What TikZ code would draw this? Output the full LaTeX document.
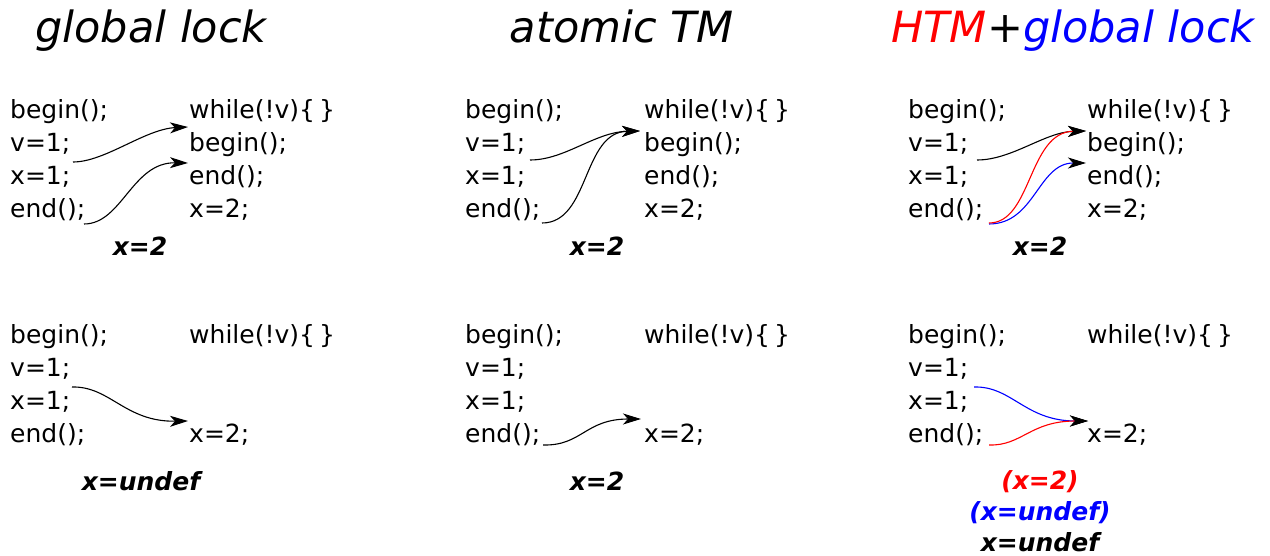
\documentclass[tikz,border=0pt]{standalone}
\usepackage{fontspec}
\setmainfont{DejaVu Sans}
\usetikzlibrary{arrows.meta}
\begin{document}
\begin{tikzpicture}[x=1pt,y=-1pt,
  code/.style={anchor=base west,inner sep=0pt,font=\fontsize{25}{30}\selectfont},
  ttl/.style={anchor=base,inner sep=0pt,font=\fontsize{43}{50}\selectfont\itshape},
  res/.style={anchor=base,inner sep=0pt,font=\fontsize{25}{30}\selectfont\bfseries\itshape},
  arr/.style={line width=1.1pt,-{Stealth[length=18pt,width=11pt,inset=5pt,color=black]}}]
\useasboundingbox (0,0) rectangle (1270,556);
% titles
\node[ttl] (t1) at (151,43) {global lock};
\node[ttl] (t2) at (622,43) {atomic TM};
\node[ttl] (t3) at (1073,43) {{\color{red}HTM}+{\color{blue}global lock}};
% ---------- panel 1 top
\node[code] (a1l1) at (10,119) {begin();};
\node[code] (a1l2) at (10,152) {v=1;};
\node[code] (a1l3) at (10,185) {x=1;};
\node[code] (a1l4) at (10,218) {end();};
\node[code] (a1r1) at (189,119) {while(!v)\{\,\}};
\node[code] (a1r2) at (189,152) {begin();};
\node[code] (a1r3) at (189,185) {end();};
\node[code] (a1r4) at (189,218) {x=2;};
\coordinate (a1s1) at (73,162);
\coordinate (a1e1) at (188,127);
\coordinate (a1s2) at (84,224);
\coordinate (a1e2) at (188,163);
\draw[arr] (a1s1) .. controls (105,162) and (145,129) .. (a1e1);
\draw[arr] (a1s2) .. controls (122,224) and (132,162) .. (a1e2);
\node[res] (a1res) at (140,256) {x=2};
% ---------- panel 2 top
\node[code] (a2l1) at (465,119) {begin();};
\node[code] (a2l2) at (465,152) {v=1;};
\node[code] (a2l3) at (465,185) {x=1;};
\node[code] (a2l4) at (465,218) {end();};
\node[code] (a2r1) at (644,119) {while(!v)\{\,\}};
\node[code] (a2r2) at (644,152) {begin();};
\node[code] (a2r3) at (644,185) {end();};
\node[code] (a2r4) at (644,218) {x=2;};
\coordinate (a2s1) at (530,160);
\coordinate (a2s2) at (542,223);
\coordinate (a2e) at (640,131);
\draw[arr] (a2s1) .. controls (565,160) and (595,132) .. (a2e);
\draw[arr] (a2s2) .. controls (590,223) and (582,132) .. (a2e);
\node[res] (a2res) at (597,256) {x=2};
% ---------- panel 3 top
\node[code] (a3l1) at (908,119) {begin();};
\node[code] (a3l2) at (908,152) {v=1;};
\node[code] (a3l3) at (908,185) {x=1;};
\node[code] (a3l4) at (908,218) {end();};
\node[code] (a3r1) at (1087,119) {while(!v)\{\,\}};
\node[code] (a3r2) at (1087,152) {begin();};
\node[code] (a3r3) at (1087,185) {end();};
\node[code] (a3r4) at (1087,218) {x=2;};
\coordinate (a3s1) at (977,160);
\coordinate (a3s2) at (989,223);
\coordinate (a3s3) at (989,224);
\coordinate (a3e1) at (1086,131);
\coordinate (a3e2) at (1086,163);
\draw[arr] (a3s1) .. controls (1012,160) and (1045,132) .. (a3e1);
\draw[arr,blue] (a3s3) .. controls (1035,224) and (1038,163) .. (a3e2);
\draw[arr,red] (a3s2) .. controls (1032,223) and (1028,132) .. (a3e1);
\node[res] (a3res) at (1040,256) {x=2};
% ---------- panel 1 bottom
\node[code] (b1l1) at (10,343) {begin();};
\node[code] (b1l2) at (10,376) {v=1;};
\node[code] (b1l3) at (10,409) {x=1;};
\node[code] (b1l4) at (10,442) {end();};
\node[code] (b1r1) at (189,343) {while(!v)\{\,\}};
\node[code] (b1r4) at (189,442) {x=2;};
\coordinate (b1s) at (72,387);
\coordinate (b1e) at (188,421);
\draw[arr] (b1s) .. controls (110,386) and (125,422) .. (b1e);
\node[res] (b1res) at (141,490) {x=undef};
% ---------- panel 2 bottom
\node[code] (b2l1) at (465,343) {begin();};
\node[code] (b2l2) at (465,376) {v=1;};
\node[code] (b2l3) at (465,409) {x=1;};
\node[code] (b2l4) at (465,442) {end();};
\node[code] (b2r1) at (644,343) {while(!v)\{\,\}};
\node[code] (b2r4) at (644,442) {x=2;};
\coordinate (b2s) at (543,445);
\coordinate (b2e) at (641,419);
\draw[arr] (b2s) .. controls (582,446) and (585,419) .. (b2e);
\node[res] (b2res) at (597,490) {x=2};
% ---------- panel 3 bottom
\node[code] (b3l1) at (908,343) {begin();};
\node[code] (b3l2) at (908,376) {v=1;};
\node[code] (b3l3) at (908,409) {x=1;};
\node[code] (b3l4) at (908,442) {end();};
\node[code] (b3r1) at (1087,343) {while(!v)\{\,\}};
\node[code] (b3r4) at (1087,442) {x=2;};
\coordinate (b3s1) at (974,387);
\coordinate (b3s2) at (989,445);
\coordinate (b3e) at (1088,421);
\draw[arr,blue] (b3s1) .. controls (1012,386) and (1025,421) .. (b3e);
\draw[arr,red] (b3s2) .. controls (1022,446) and (1030,421) .. (b3e);
\node[res,red] (b3res1) at (1040,489) {(x=2)};
\node[res,blue] (b3res2) at (1040,520) {(x=undef)};
\node[res] (b3res3) at (1040,551) {x=undef};
\end{tikzpicture}
\end{document}
